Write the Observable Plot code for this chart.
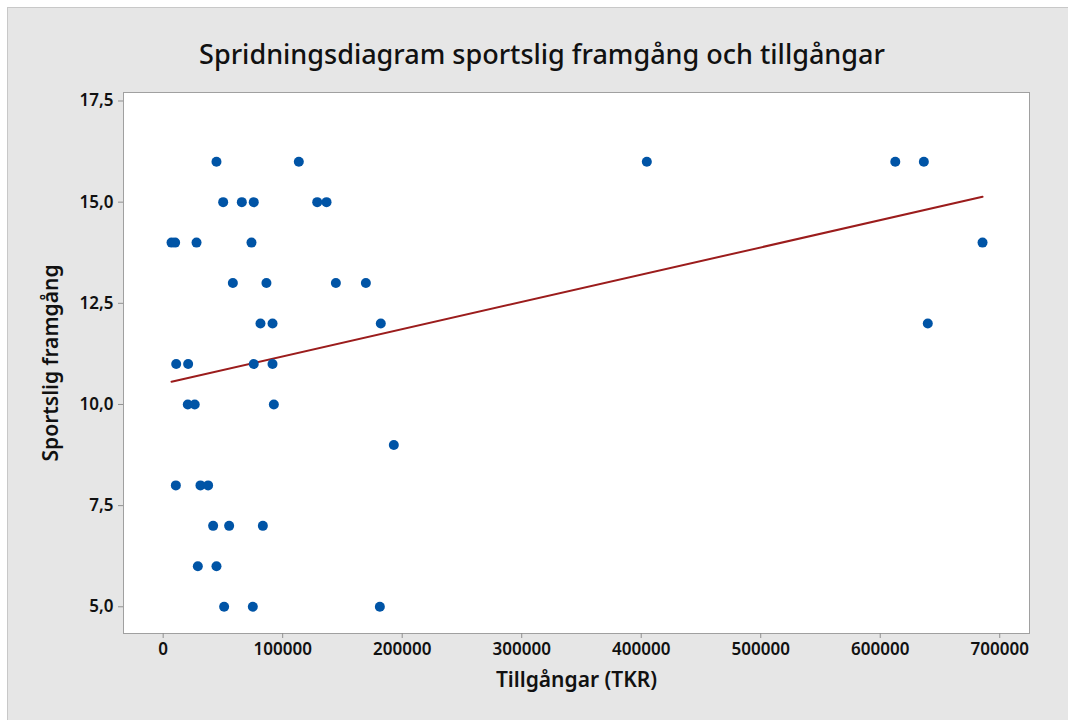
<!DOCTYPE html>
<html>
<head>
<meta charset="utf-8">
<script src="https://cdn.jsdelivr.net/npm/d3@7"></script>
<script src="https://cdn.jsdelivr.net/npm/@observablehq/plot@0.6"></script>
<style>
  html, body { margin: 0; padding: 0; background: #ffffff; }
  #wrap { position: relative; width: 1068px; height: 720px; overflow: hidden; }
  #bg { position: absolute; left: 7px; top: 7px; right: 0; bottom: 0; background: #e6e6e6;
        border-top: 1px solid #c8c8c8; border-left: 1px solid #c8c8c8; }
  #title { position: absolute; left: 0; width: 1084px; top: 35px; text-align: center;
           font-family: "Noto Sans", sans-serif; font-size: 27px; font-weight: 500; color: #111; white-space: nowrap; }
  #chart { position: absolute; left: 0; top: 0; }
</style>
</head>
<body>
<div id="wrap">
  <div id="bg"></div>
  <div id="chart"></div>
  <div id="title">Spridningsdiagram sportslig framgång och tillgångar</div>
</div>
<script>
// Tillgångar (TKR)
const assets = [
  44600, 113500, 404700, 612600, 636500,
  50200, 65800, 75800, 128900, 136700,
  7000, 10000, 27900, 73900, 685600,
  58300, 86400, 144500, 169600,
  81400, 91500, 182100, 639800,
  10900, 20900, 75800, 91500,
  20600, 26400, 92600,
  193000,
  10600, 31200, 37600,
  41800, 55200, 83400,
  29000, 44600,
  51000, 75000, 181300
];
// Sportslig framgång
const success = [
  16, 16, 16, 16, 16,
  15, 15, 15, 15, 15,
  14, 14, 14, 14, 14,
  13, 13, 13, 13,
  12, 12, 12, 12,
  11, 11, 11, 11,
  10, 10, 10,
  9,
  8, 8, 8,
  7, 7, 7,
  6, 6,
  5, 5, 5
];
const xTicks = [0, 100000, 200000, 300000, 400000, 500000, 600000, 700000];
const yTicks = [5, 7.5, 10, 12.5, 15, 17.5];

const data = assets.map((a, i) => ({x: a, y: success[i]}));

const font = '"Noto Sans", sans-serif';
const chart = Plot.plot({
  width: 1068,
  height: 720,
  marginLeft: 123,
  marginTop: 92,
  marginRight: 39,
  marginBottom: 87,
  style: {background: "transparent", fontFamily: font, color: "#111"},
  x: {domain: [-33200, 724900]},
  y: {domain: [4.34, 17.71]},
  marks: [
    Plot.frame({fill: "white", stroke: "#a0a0a0"}),
    Plot.axisX({ticks: xTicks, tickFormat: d3.format("d"), tickSize: 5, tickPadding: 4,
                stroke: "#909090", fontSize: 17, fontWeight: 600, label: null}),
    Plot.axisY({ticks: yTicks, tickFormat: d => d.toFixed(1).replace(".", ","), tickSize: 5,
                tickPadding: 5, stroke: "#909090", fontSize: 17, fontWeight: 600, label: null}),
    Plot.text(["Tillgångar (TKR)"], {frameAnchor: "bottom", dy: 53, fontSize: 21, fontWeight: 600, fill: "#111"}),
    Plot.text(["Sportslig framgång"], {frameAnchor: "left", dx: -72, rotate: -90, textAnchor: "middle",
                fontSize: 21, fontWeight: 600, fill: "#111"}),
    Plot.linearRegressionY(data, {x: "x", y: "y", ci: 0, stroke: "#9b1c1c", strokeWidth: 2}),
    Plot.dot(data, {x: "x", y: "y", r: 5, fill: "#0054a6", stroke: "none"})
  ]
});
document.getElementById("chart").append(chart);
</script>
</body>
</html>
